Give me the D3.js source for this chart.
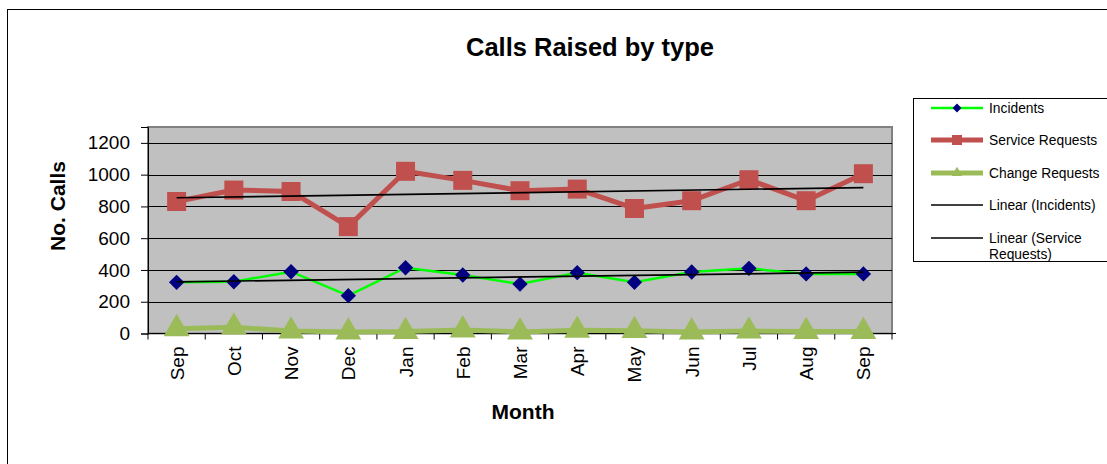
<!DOCTYPE html>
<html>
<head>
<meta charset="utf-8">
<script src="https://cdn.jsdelivr.net/npm/d3@7"></script>
<style>
  body { margin: 0; background: #fff; }
  text { font-family: "Liberation Sans", Arial, sans-serif; }
</style>
</head>
<body>
<div id="zone"></div>
<script>
(function() {
  "use strict";

  // données
  var months = ["Sep", "Oct", "Nov", "Dec", "Jan", "Feb", "Mar", "Apr", "May", "Jun", "Jul", "Aug", "Sep"];
  var incidents = [322, 326, 389, 238, 414, 368, 311, 383, 322, 387, 410, 375, 375];
  var serviceRequests = [831, 903, 894, 673, 1021, 964, 899, 909, 787, 836, 968, 836, 1006];
  var changeRequests = [30, 40, 15, 10, 12, 22, 10, 20, 18, 10, 15, 12, 12];
  var yTicks = [0, 200, 400, 600, 800, 1000, 1200];

  var width = 1107, height = 464;
  var plot = { left: 148, top: 127, right: 892, bottom: 333.5 };

  var svg = d3.select("#zone").append("svg")
    .attr("width", width)
    .attr("height", height);

  // cadre du graphique
  svg.append("rect")
    .attr("x", 7.5).attr("y", 9.5)
    .attr("width", 1200).attr("height", 500)
    .attr("fill", "#fff").attr("stroke", "#000");

  var idx = d3.range(months.length);
  var x = d3.scaleBand().domain(idx).range([plot.left, plot.right]);
  var y = d3.scaleLinear().domain([0, 1300]).range([plot.bottom, plot.top]);
  function cx(i) { return x(i) + x.bandwidth() / 2; }

  // zone de tracé
  svg.append("rect")
    .attr("x", plot.left).attr("y", plot.top)
    .attr("width", plot.right - plot.left).attr("height", plot.bottom - plot.top)
    .attr("fill", "#c0c0c0").attr("stroke", "#808080").attr("stroke-width", 2);

  // grille
  svg.append("g").selectAll("line").data(yTicks.slice(1)).join("line")
    .attr("x1", plot.left).attr("x2", plot.right)
    .attr("y1", function(d) { return Math.round(y(d)) + 0.5; })
    .attr("y2", function(d) { return Math.round(y(d)) + 0.5; })
    .attr("stroke", "#000");

  // axe Y
  var yAxis = svg.append("g")
    .attr("transform", "translate(" + plot.left + ",0)")
    .call(d3.axisLeft(y).tickValues(yTicks).tickFormat(d3.format("d")).tickSize(7).tickPadding(11));
  yAxis.selectAll("text").style("font-size", "19px").attr("fill", "#000");
  yAxis.selectAll("path,line").attr("stroke", "#000");

  // axe X : ticks entre catégories
  var xAxisG = svg.append("g");
  xAxisG.append("line")
    .attr("x1", plot.left).attr("x2", plot.right + 4)
    .attr("y1", plot.bottom).attr("y2", plot.bottom)
    .attr("stroke", "#000");
  xAxisG.selectAll("line.tk").data(d3.range(months.length + 1)).join("line")
    .attr("class", "tk")
    .attr("x1", function(i) { return plot.left + i * x.bandwidth(); })
    .attr("x2", function(i) { return plot.left + i * x.bandwidth(); })
    .attr("y1", plot.bottom).attr("y2", plot.bottom + 6)
    .attr("stroke", "#000");
  xAxisG.selectAll("text").data(idx).join("text")
    .attr("transform", function(i) { return "translate(" + (cx(i) + 7) + "," + (plot.bottom + 13) + ") rotate(-90)"; })
    .attr("text-anchor", "end")
    .style("font-size", "19px")
    .text(function(i) { return months[i]; });

  // lignes de tendance (régression linéaire)
  function trend(values) {
    var n = values.length;
    var mx = d3.mean(idx), my = d3.mean(values);
    var num = d3.sum(idx, function(i) { return (i - mx) * (values[i] - my); });
    var den = d3.sum(idx, function(i) { return (i - mx) * (i - mx); });
    var b = num / den, a = my - b * mx;
    return [a, a + b * (n - 1)];
  }

  var line = d3.line().x(function(d, i) { return cx(i); }).y(function(d) { return y(d); });

  // Change Requests
  svg.append("path").datum(changeRequests)
    .attr("d", line).attr("fill", "none")
    .attr("stroke", "#9bbb59").attr("stroke-width", 5).attr("stroke-linejoin", "round");
  svg.append("g").selectAll("path").data(changeRequests).join("path")
    .attr("d", d3.symbol(d3.symbolTriangle, 290))
    .attr("transform", function(d, i) { return "translate(" + cx(i) + "," + y(d) + ")"; })
    .attr("fill", "#9bbb59");

  // Service Requests
  svg.append("path").datum(serviceRequests)
    .attr("d", line).attr("fill", "none")
    .attr("stroke", "#c0504d").attr("stroke-width", 5).attr("stroke-linejoin", "round");
  svg.append("g").selectAll("rect").data(serviceRequests).join("rect")
    .attr("x", function(d, i) { return cx(i) - 9.5; })
    .attr("y", function(d) { return y(d) - 9.5; })
    .attr("width", 19).attr("height", 19)
    .attr("fill", "#c0504d");

  // Incidents
  svg.append("path").datum(incidents)
    .attr("d", line).attr("fill", "none")
    .attr("stroke", "#00ff00").attr("stroke-width", 2.5);
  svg.append("g").selectAll("path").data(incidents).join("path")
    .attr("d", d3.symbol(d3.symbolDiamond2, 150))
    .attr("transform", function(d, i) { return "translate(" + cx(i) + "," + y(d) + ")"; })
    .attr("fill", "#000080");

  // tendances
  [incidents, serviceRequests].forEach(function(values) {
    var t = trend(values);
    svg.append("line")
      .attr("x1", cx(0)).attr("x2", cx(months.length - 1))
      .attr("y1", y(t[0])).attr("y2", y(t[1]))
      .attr("stroke", "#000").attr("stroke-width", 1.7);
  });

  // titres
  svg.append("text")
    .attr("x", 590).attr("y", 56)
    .attr("text-anchor", "middle")
    .style("font-size", "25.5px").style("font-weight", "bold")
    .text("Calls Raised by type");
  svg.append("text")
    .attr("transform", "translate(65,206) rotate(-90)")
    .attr("text-anchor", "middle")
    .style("font-size", "21px").style("font-weight", "bold")
    .text("No. Calls");
  svg.append("text")
    .attr("x", 523).attr("y", 419)
    .attr("text-anchor", "middle")
    .style("font-size", "21px").style("font-weight", "bold")
    .text("Month");

  // légende
  var legend = svg.append("g");
  legend.append("rect")
    .attr("x", 913.5).attr("y", 98.5)
    .attr("width", 300).attr("height", 163)
    .attr("fill", "#fff").attr("stroke", "#000");

  var legendItems = [
    { label: ["Incidents"], color: "#00ff00", w: 2.5, marker: "diamond", y: 108 },
    { label: ["Service Requests"], color: "#c0504d", w: 5, marker: "square", y: 140 },
    { label: ["Change Requests"], color: "#9bbb59", w: 5, marker: "triangle", y: 173 },
    { label: ["Linear (Incidents)"], color: "#000", w: 1.5, marker: null, y: 205 },
    { label: ["Linear (Service", "Requests)"], color: "#000", w: 1.5, marker: null, y: 238 }
  ];
  legendItems.forEach(function(it) {
    legend.append("line")
      .attr("x1", 931).attr("x2", 983)
      .attr("y1", it.y).attr("y2", it.y)
      .attr("stroke", it.color).attr("stroke-width", it.w);
    if (it.marker === "diamond") {
      legend.append("path").attr("d", d3.symbol(d3.symbolDiamond2, 50))
        .attr("transform", "translate(957," + it.y + ")").attr("fill", "#000080");
    } else if (it.marker === "square") {
      legend.append("rect").attr("x", 952).attr("y", it.y - 5)
        .attr("width", 10).attr("height", 10).attr("fill", "#c0504d");
    } else if (it.marker === "triangle") {
      legend.append("path").attr("d", d3.symbol(d3.symbolTriangle, 50))
        .attr("transform", "translate(957," + it.y + ")").attr("fill", "#9bbb59");
    }
    it.label.forEach(function(l, k) {
      legend.append("text")
        .attr("x", 989).attr("y", it.y + 4.5 + k * 16)
        .style("font-size", "13.8px")
        .text(l);
    });
  });
})();
</script>
</body>
</html>
